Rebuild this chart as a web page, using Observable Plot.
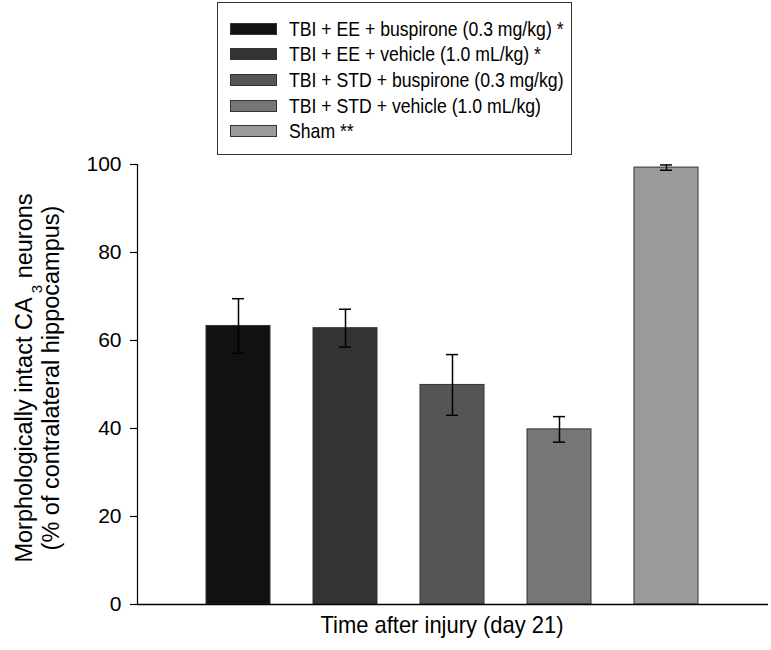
<!DOCTYPE html>
<html>
<head>
<meta charset="utf-8">
<script src="https://cdn.jsdelivr.net/npm/d3@7"></script>
<script src="https://cdn.jsdelivr.net/npm/@observablehq/plot@0.6"></script>
<style>
  html, body { margin: 0; padding: 0; background: #fff; }
  #wrap { position: relative; width: 771px; height: 650px; font-family: "Liberation Sans", Arial, sans-serif; }
  #legend { position: absolute; left: 217px; top: 2px; width: 355px; height: 153px; border: 1px solid #333; box-sizing: border-box; background: #fff; padding-top: 13px; }
  .row { display: flex; align-items: center; height: 25.6px; font-size: 21px; color: #000; white-space: nowrap; }
  .row span { display: inline-block; transform: scaleX(0.84); transform-origin: left center; }
  .sw { width: 47px; height: 12px; margin-left: 12px; margin-right: 12px; border: 1px solid #333; box-sizing: border-box; flex: none; }
</style>
</head>
<body>
<div id="wrap"></div>
<script>
const groups = [
  "TBI + EE + buspirone (0.3 mg/kg) *",
  "TBI + EE + vehicle (1.0 mL/kg) *",
  "TBI + STD + buspirone (0.3 mg/kg)",
  "TBI + STD + vehicle (1.0 mL/kg)",
  "Sham **"
];
const means = [63.3, 62.8, 49.9, 39.8, 99.3];
const sems = [6.2, 4.3, 6.9, 2.9, 0.6];
const colors = ["#111111", "#333333", "#555555", "#767676", "#9a9a9a"];
const yTicks = [0, 20, 40, 60, 80, 100];
const xTitle = "Time after injury (day 21)";

const data = groups.map((g, i) => ({group: g, mean: means[i], lo: means[i] - sems[i], hi: means[i] + sems[i]}));

const plot = Plot.plot({
  width: 771,
  height: 650,
  marginLeft: 137,
  marginRight: 3,
  marginTop: 164,
  marginBottom: 46,
  style: {fontFamily: "Liberation Sans, Arial, sans-serif", fontSize: "21px", background: "#fff", color: "#000"},
  x: {domain: groups, paddingInner: 0.4, paddingOuter: 0.63, axis: null},
  y: {domain: [0, 100], axis: null},
  color: {domain: groups, range: colors},
  marks: [
    Plot.barY(data, {x: "group", y: "mean", fill: "group", stroke: "#333", strokeWidth: 1}),
    Plot.ruleX(data, {x: "group", y1: "lo", y2: "hi", stroke: "#000", strokeWidth: 1.5}),
    Plot.tickY(data, {x: "group", y: "lo", stroke: "#000", strokeWidth: 1.5, insetLeft: 26, insetRight: 26}),
    Plot.tickY(data, {x: "group", y: "hi", stroke: "#000", strokeWidth: 1.5, insetLeft: 26, insetRight: 26}),
    Plot.axisY({ticks: yTicks, tickSize: 7, tickPadding: 9, fontSize: 21, label: null, stroke: "#000", strokeWidth: 1.2}),
    Plot.frame({anchor: "left", stroke: "#000", strokeWidth: 1.2}),
    Plot.ruleY([0], {stroke: "#000", strokeWidth: 1.5}),
    Plot.text([xTitle], {frameAnchor: "bottom-left", textAnchor: "start", dx: 183, dy: 28, fontSize: 24, fill: "#000"})
  ]
});

const wrap = document.getElementById("wrap");
wrap.appendChild(plot);

const svg = d3.select(plot);
// slightly condensed x title, as in the reference
svg.selectAll("text").filter(function() { return this.textContent === xTitle; })
  .attr("textLength", 243).attr("lengthAdjust", "spacingAndGlyphs");

// y-axis label with subscript
const ylab = svg.append("g").attr("transform", "translate(0,378) rotate(-90)")
  .attr("font-size", 23.5).attr("fill", "#000").attr("text-anchor", "middle")
  .attr("font-family", "Liberation Sans, Arial, sans-serif");
const t1 = ylab.append("text").attr("x", 0).attr("y", 32);
t1.append("tspan").text("Morphologically intact CA");
t1.append("tspan").attr("font-size", 15).attr("dy", 10).text(" 3");
t1.append("tspan").attr("dy", -10).text(" neurons");
ylab.append("text").attr("x", 0).attr("y", 59).text("(% of contralateral hippocampus)");

// legend
const legend = document.createElement("div");
legend.id = "legend";
groups.forEach((g, i) => {
  const row = document.createElement("div");
  row.className = "row";
  const sw = document.createElement("div");
  sw.className = "sw";
  sw.style.background = colors[i];
  const lab = document.createElement("span");
  lab.textContent = g;
  row.appendChild(sw);
  row.appendChild(lab);
  legend.appendChild(row);
});
wrap.appendChild(legend);
</script>
</body>
</html>
